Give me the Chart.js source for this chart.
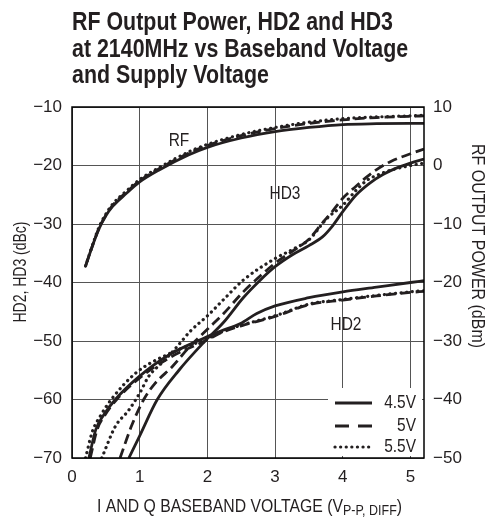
<!DOCTYPE html>
<html>
<head>
<meta charset="utf-8">
<script src="https://cdn.jsdelivr.net/npm/chart.js@4.4.0/dist/chart.umd.min.js"></script>
<style>
  html, body { margin: 0; padding: 0; background: #fff; }
  #wrap { width: 487px; height: 517px; }
</style>
</head>
<body>
<div id="wrap"><canvas id="chart" width="487" height="517"></canvas></div>
<script>
// Axis ticks
const xTicks = [0, 1, 2, 3, 4, 5];
const leftTicks = [-10, -20, -30, -40, -50, -60, -70];
const rightTicks = [10, 0, -10, -20, -30, -40, -50];

// RF output power (dBm, right axis) vs baseband voltage
const rf45 = [[0.2,-17.2],[0.3,-13.8],[0.4,-10.8],[0.5,-8.6],[0.6,-7.0],[0.8,-4.8],[1.0,-2.8],[1.28,-0.8],[1.72,1.8],[2.0,3.1],[2.5,4.7],[3.0,5.8],[3.5,6.5],[4.0,7.0],[4.5,7.15],[5.0,7.2],[5.2,7.2]];
const rf50 = [[0.2,-17.2],[0.3,-13.8],[0.4,-10.7],[0.5,-8.5],[0.6,-6.8],[0.8,-4.6],[1.0,-2.6],[1.28,-0.6],[1.72,2.1],[2.0,3.4],[2.5,5.1],[3.0,6.3],[3.5,7.2],[4.0,7.8],[4.5,8.2],[5.0,8.4],[5.2,8.5]];
const rf55 = [[0.2,-17.2],[0.3,-13.7],[0.4,-10.5],[0.5,-8.3],[0.6,-6.6],[0.8,-4.4],[1.0,-2.4],[1.28,-0.4],[1.72,2.3],[2.0,3.6],[2.5,5.3],[3.0,6.5],[3.5,7.4],[4.0,8.0],[4.5,8.3],[5.0,8.5],[5.2,8.6]];

// HD3 (dBc, left axis)
const hd3_45 = [[0.84,-70],[1.0,-66.2],[1.26,-60],[1.58,-55],[1.95,-50.2],[2.24,-46.8],[2.53,-42.6],[2.78,-39.6],[3.0,-37.3],[3.25,-35.3],[3.5,-33.7],[3.7,-32.2],[3.85,-30.3],[4.0,-27.9],[4.2,-25.0],[4.4,-23.0],[4.6,-21.5],[4.8,-20.4],[5.0,-19.6],[5.2,-18.9]];
const hd3_50 = [[0.71,-70],[0.88,-64.5],[1.06,-60],[1.23,-57.2],[1.48,-54.4],[1.72,-51.2],[2.0,-48.0],[2.24,-45.3],[2.53,-41.6],[2.78,-38.9],[3.0,-36.7],[3.25,-34.7],[3.5,-32.6],[3.7,-29.8],[3.85,-27.8],[4.0,-25.6],[4.2,-23.5],[4.36,-21.9],[4.5,-20.7],[4.71,-19.3],[5.0,-18.0],[5.2,-17.2]];
const hd3_55 = [[0.44,-70],[0.64,-64.6],[0.84,-61.8],[1.01,-58.7],[1.13,-56.1],[1.35,-53.5],[1.55,-51.0],[1.75,-48.3],[2.0,-45.7],[2.24,-42.9],[2.53,-39.6],[3.0,-35.9],[3.25,-34.4],[3.5,-32.7],[3.77,-29.0],[4.0,-26.8],[4.2,-24.2],[4.36,-22.5],[4.5,-21.7],[4.71,-20.8],[5.0,-20.0],[5.2,-19.6]];

// HD2 (dBc, left axis)
const hd2_45 = [[0.25,-70],[0.35,-65.2],[0.47,-62.6],[0.64,-60],[0.99,-56.1],[1.43,-52.4],[1.97,-49.4],[2.2,-48.3],[2.49,-47.0],[2.73,-45.3],[3.0,-44.0],[3.5,-42.6],[4.0,-41.6],[4.5,-40.8],[5.0,-40.0],[5.2,-39.7]];
const hd2_50 = [[0.27,-70],[0.37,-65.2],[0.49,-62.6],[0.66,-60],[1.0,-56.3],[1.45,-52.8],[2.0,-49.8],[2.24,-48.4],[2.5,-47.4],[3.0,-45.8],[3.5,-43.8],[4.0,-43.0],[4.5,-42.3],[5.0,-41.7],[5.2,-41.5]];
const hd2_55 = [[0.2,-70],[0.3,-65.5],[0.42,-62.8],[0.58,-60],[0.94,-55.5],[1.43,-52.2],[2.0,-49.6],[2.24,-48.3],[2.5,-47.3],[3.0,-45.7],[3.5,-43.7],[4.0,-42.9],[4.5,-42.2],[5.0,-41.6],[5.2,-41.4]];

const legendLabels = ['4.5V', '5V', '5.5V'];
const titleLines = ['RF Output Power, HD2 and HD3', 'at 2140MHz vs Baseband Voltage', 'and Supply Voltage'];

const INK = '#231f20';
const FONT = '"Liberation Sans", Arial, sans-serif';
const DASH = [10, 5];
const DOT = [0.1, 5.5];

function minus(v) {
    return v < 0 ? '\u2212' + Math.abs(v) : String(v);
}

function curve(points, axis, style) {
    const ds = {
        data: points.map(([x, y]) => ({ x: x, y: y })),
        yAxisID: axis,
        borderColor: INK,
        borderWidth: 2.8,
        pointRadius: 0,
        tension: 0.4,
        cubicInterpolationMode: 'monotone',
        fill: false
    };
    if (style === 'dash') ds.borderDash = DASH;
    if (style === 'dot') {
        ds.borderDash = DOT;
        ds.borderCapStyle = 'round';
        ds.borderWidth = 3.2;
    }
    return ds;
}

// text squeezed horizontally to look like the condensed face of the original
function squeezed(ctx, text, x, y, sx) {
    ctx.save();
    ctx.translate(x, y);
    ctx.scale(sx, 1);
    ctx.fillText(text, 0, 0);
    ctx.restore();
}

function drawLegendLine(ctx, x1, x2, y, style) {
    ctx.save();
    ctx.strokeStyle = INK;
    ctx.lineWidth = style === 'dot' ? 3.2 : 2.8;
    if (style === 'dash') ctx.setLineDash([14, 9]);
    if (style === 'dot') { ctx.setLineDash(DOT); ctx.lineCap = 'round'; }
    ctx.beginPath();
    ctx.moveTo(x1, y);
    ctx.lineTo(x2, y);
    ctx.stroke();
    ctx.restore();
}

// Title, axis titles, curve labels, legend and frame
const decor = {
    id: 'decor',
    beforeDatasetsDraw(chart) {
        const ctx = chart.ctx;
        ctx.save();
        ctx.fillStyle = '#fff';
        ctx.fillRect(328, 388, 94, 68);
        const styles = ['solid', 'dash', 'dot'];
        const ys = [403, 426, 447];
        ctx.font = '18px ' + FONT;
        ctx.fillStyle = INK;
        ctx.textAlign = 'right';
        ctx.textBaseline = 'middle';
        styles.forEach((s, i) => {
            drawLegendLine(ctx, 335, 372, ys[i], s);
            squeezed(ctx, legendLabels[i], 416, ys[i], 0.86);
        });
        ctx.restore();
    },
    afterDraw(chart) {
        const ctx = chart.ctx;
        const a = chart.chartArea;
        ctx.save();
        ctx.strokeStyle = '#000';
        ctx.lineWidth = 1.5;
        ctx.strokeRect(a.left, a.top, a.right - a.left, a.bottom - a.top);

        ctx.fillStyle = INK;
        ctx.textAlign = 'left';
        ctx.textBaseline = 'alphabetic';
        ctx.font = 'bold 25px ' + FONT;
        const sxTitle = 321 / ctx.measureText(titleLines[0]).width;
        titleLines.forEach((t, i) => squeezed(ctx, t, 72, 30 + i * 26.7, sxTitle));

        ctx.font = '18px ' + FONT;
        ctx.textAlign = 'center';
        ctx.textBaseline = 'middle';
        squeezed(ctx, 'RF', 179, 141, 0.86);
        squeezed(ctx, 'HD3', 285, 194, 0.86);
        squeezed(ctx, 'HD2', 346, 325, 0.86);

        // left axis title
        ctx.font = '19px ' + FONT;
        let t = 'HD2, HD3 (dBc)';
        let sx = 101 / ctx.measureText(t).width;
        ctx.save();
        ctx.translate(21, 272);
        ctx.rotate(-Math.PI / 2);
        squeezed(ctx, t, 0, 0, sx);
        ctx.restore();
        // right axis title
        t = 'RF OUTPUT POWER (dBm)';
        sx = 204 / ctx.measureText(t).width;
        ctx.save();
        ctx.translate(477, 246);
        ctx.rotate(Math.PI / 2);
        squeezed(ctx, t, 0, 0, sx);
        ctx.restore();

        // x axis title with subscript
        const main = 'I AND Q BASEBAND VOLTAGE (V';
        const sub = 'P-P, DIFF';
        const close = ')';
        ctx.textBaseline = 'alphabetic';
        ctx.textAlign = 'left';
        ctx.font = '19px ' + FONT;
        const wMain = ctx.measureText(main).width;
        const wClose = ctx.measureText(close).width;
        ctx.font = '15px ' + FONT;
        const wSub = ctx.measureText(sub).width;
        sx = 305 / (wMain + wSub + wClose);
        let x = 97;
        ctx.font = '19px ' + FONT;
        squeezed(ctx, main, x, 512, sx);
        x += wMain * sx;
        ctx.font = '15px ' + FONT;
        squeezed(ctx, sub, x, 515, sx);
        x += wSub * sx;
        ctx.font = '19px ' + FONT;
        squeezed(ctx, close, x, 512, sx);
        ctx.restore();
    }
};

const ctx = document.getElementById('chart').getContext('2d');
const chart = new Chart(ctx, {
    type: 'line',
    data: {
        datasets: [
            curve(rf45, 'y1', 'solid'),
            curve(rf50, 'y1', 'dash'),
            curve(rf55, 'y1', 'dot'),
            curve(hd3_45, 'y', 'solid'),
            curve(hd3_50, 'y', 'dash'),
            curve(hd3_55, 'y', 'dot'),
            curve(hd2_45, 'y', 'solid'),
            curve(hd2_50, 'y', 'dash'),
            curve(hd2_55, 'y', 'dot')
        ]
    },
    options: {
        responsive: false,
        animation: false,
        devicePixelRatio: 1,
        layout: { padding: { top: 107, left: 0, right: 0, bottom: 0 } },
        plugins: {
            legend: { display: false },
            tooltip: { enabled: false }
        },
        scales: {
            x: {
                type: 'linear',
                min: 0,
                max: 5.2,
                afterBuildTicks: s => { s.ticks = xTicks.map(v => ({ value: v })); },
                afterFit: s => { s.height = 59; },
                ticks: {
                    color: INK,
                    font: { family: FONT, size: 17 },
                    padding: 9,
                    maxRotation: 0,
                    callback: v => minus(v)
                },
                grid: { color: '#555', lineWidth: 1, drawTicks: false },
                border: { display: false }
            },
            y: {
                position: 'left',
                min: -70,
                max: -10,
                afterBuildTicks: s => { s.ticks = leftTicks.map(v => ({ value: v })); },
                afterFit: s => { s.width = 72; },
                ticks: {
                    color: INK,
                    font: { family: FONT, size: 17 },
                    padding: 10,
                    callback: v => minus(v)
                },
                grid: { color: '#555', lineWidth: 1, drawTicks: false },
                border: { display: false }
            },
            y1: {
                position: 'right',
                min: -50,
                max: 10,
                afterBuildTicks: s => { s.ticks = rightTicks.map(v => ({ value: v })); },
                afterFit: s => { s.width = 63; },
                ticks: {
                    color: INK,
                    font: { family: FONT, size: 17 },
                    padding: 9,
                    callback: v => minus(v)
                },
                grid: { display: false, drawTicks: false },
                border: { display: false }
            }
        }
    },
    plugins: [decor]
});
</script>
</body>
</html>
